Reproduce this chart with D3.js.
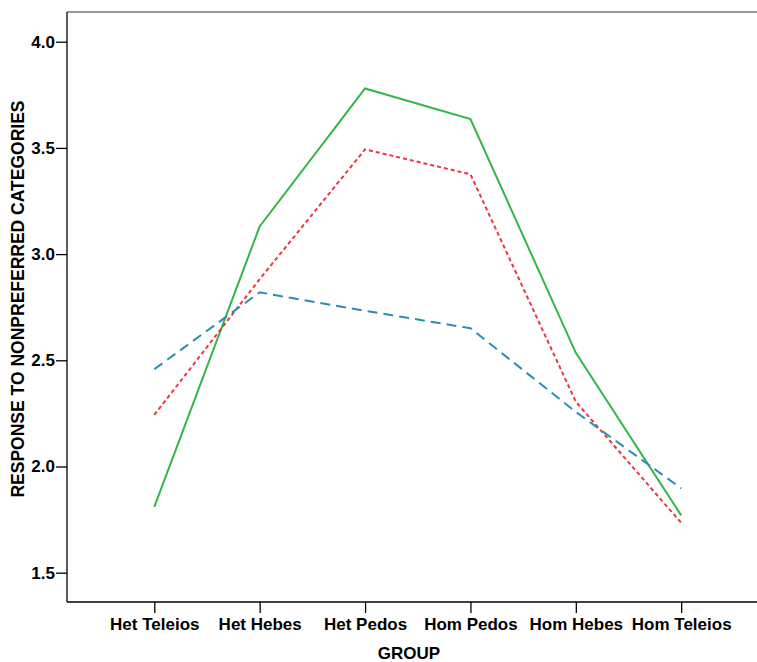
<!DOCTYPE html>
<html>
<head>
<meta charset="utf-8">
<script src="https://cdnjs.cloudflare.com/ajax/libs/d3/7.8.5/d3.min.js"></script>
<style>
  body { margin: 0; background: #fff; }
  text { font-family: "Liberation Sans", Arial, sans-serif; font-weight: bold; fill: #000; }
</style>
</head>
<body>
<script>
// data
var groups = ["Het Teleios", "Het Hebes", "Het Pedos", "Hom Pedos", "Hom Hebes", "Hom Teleios"];
var greenVals = [1.81, 3.13, 3.78, 3.636, 2.535, 1.77];
var redVals = [2.243, 2.882, 3.493, 3.376, 2.305, 1.735];
var blueVals = [2.458, 2.82, 2.733, 2.651, 2.257, 1.897];
var yTicks = [1.5, 2.0, 2.5, 3.0, 3.5, 4.0];

var series = [
  { vals: greenVals, color: "#34b548", dash: null },
  { vals: redVals, color: "#ec3540", dash: "4,3" },
  { vals: blueVals, color: "#2b8db3", dash: "10,6" }
];

var W = 757, H = 662;
var plotL = 67, plotT = 12, plotB = 602, plotR = 770;

var svg = d3.select("body")
  .append("svg")
  .attr("width", W)
  .attr("height", H);

var x = d3.scalePoint()
  .domain(groups)
  .range([154.3, 681.2]);

var y = d3.scaleLinear()
  .domain([1.5, 4.0])
  .range([572.7, 41.7]);

// top frame line (grey)
svg.append("line")
  .attr("x1", plotL).attr("y1", plotT)
  .attr("x2", plotR).attr("y2", plotT)
  .style("stroke", "#777")
  .style("stroke-width", 1.5);

// y axis
var yAxis = svg.append("g")
  .attr("transform", "translate(" + plotL + ",0)")
  .call(d3.axisLeft(y).tickValues(yTicks).tickFormat(d3.format(".1f")).tickSize(11).tickPadding(1));
yAxis.select(".domain").attr("d", "M0," + plotT + "V" + plotB).style("stroke", "#000").style("stroke-width", 1.3);
yAxis.selectAll("line").style("stroke", "#000").style("stroke-width", 1.3);
yAxis.selectAll("text").style("font-size", "17px").style("font-family", "Liberation Sans, Arial, sans-serif").style("font-weight", "bold");

// x axis
var xAxis = svg.append("g")
  .attr("transform", "translate(0," + plotB + ")")
  .call(d3.axisBottom(x).tickSize(11).tickPadding(5));
xAxis.select(".domain").attr("d", "M" + plotL + ",0H" + plotR).style("stroke", "#000").style("stroke-width", 1.3);
xAxis.selectAll("line").style("stroke", "#000").style("stroke-width", 1.3);
xAxis.selectAll("text").style("font-size", "17px").style("font-family", "Liberation Sans, Arial, sans-serif").style("font-weight", "bold");

// axis titles
svg.append("text")
  .attr("x", 409)
  .attr("y", 659)
  .attr("text-anchor", "middle")
  .style("font-size", "17px")
  .text("GROUP");

svg.append("text")
  .attr("transform", "translate(24,299) rotate(-90)")
  .attr("text-anchor", "middle")
  .style("font-size", "17.5px")
  .text("RESPONSE TO NONPREFERRED CATEGORIES");

// lines
var line = d3.line()
  .x(function(d, i) { return x(groups[i]); })
  .y(function(d) { return y(d); });

series.forEach(function(s) {
  svg.append("path")
    .attr("d", line(s.vals))
    .style("fill", "none")
    .style("stroke", s.color)
    .style("stroke-width", 2)
    .style("stroke-dasharray", s.dash);
});
</script>
</body>
</html>
